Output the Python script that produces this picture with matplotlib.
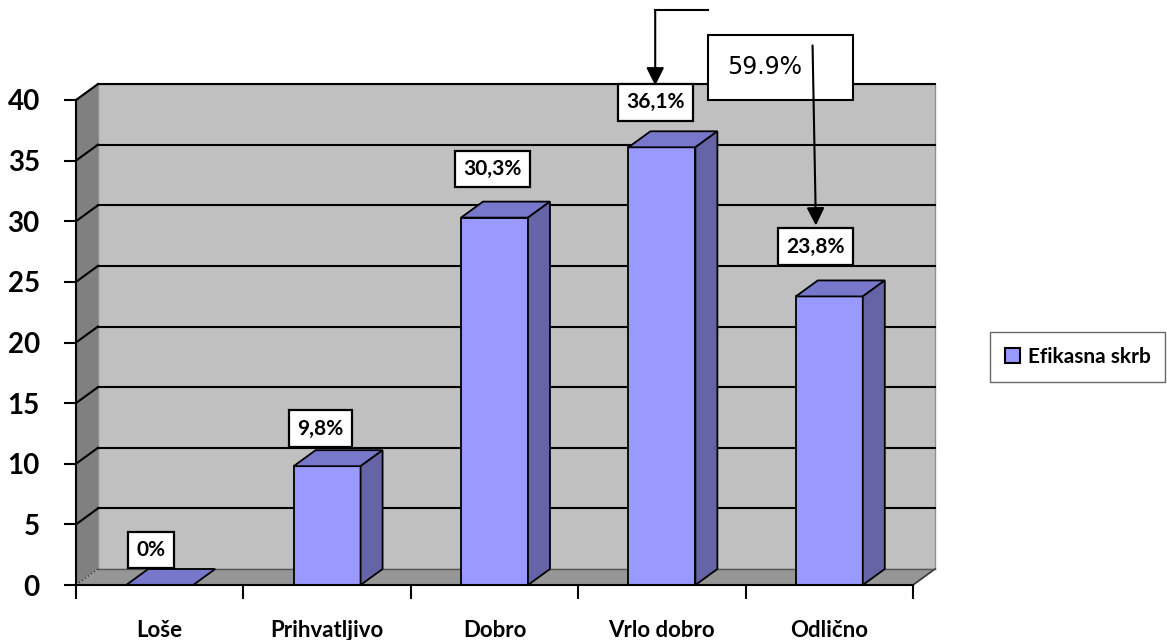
import matplotlib
matplotlib.use('Agg')
import matplotlib.pyplot as plt
from matplotlib.patches import Polygon, Rectangle, Patch

plt.rcParams['font.family'] = ['Lato', 'DejaVu Sans']

categories = ['Loše', 'Prihvatljivo', 'Dobro', 'Vrlo dobro', 'Odlično']
values = [0, 9.8, 30.3, 36.1, 23.8]
value_labels = ['0%', '9,8%', '30,3%', '36,1%', '23,8%']
series_name = 'Efikasna skrb'
note_text = '59.9%'

# label box offsets from bar (x in categories, y in value units)
label_dx = [-0.05, -0.04, -0.01, -0.04, -0.08]
label_dy = [2.9, 3.1, 4.0, 3.7, 4.1]

W, H = 1167, 640
fig = plt.figure(figsize=(W / 100, H / 100), dpi=100)
ax = fig.add_axes([76 / W, 55 / H, 837 / W, 485 / H])
ax.set_xlim(0, len(categories))
ax.set_ylim(0, 40)
ax.patch.set_visible(False)

n = len(categories)
ddx = 22 / 167.4   # depth of the 3d box
ddy = 16 / 12.125
top = 40

# walls and floor
ax.add_patch(Rectangle((ddx, ddy), n, top, fc='#c0c0c0', ec='#909090', lw=1, zorder=1, clip_on=False))
ax.add_patch(Polygon([(0, 0), (ddx, ddy), (ddx, top + ddy), (0, top)], closed=True,
                     fc='#808080', ec='none', zorder=1, clip_on=False))
ax.add_patch(Polygon([(0, 0), (n, 0), (n + ddx, ddy), (ddx, ddy)], closed=True,
                     fc='#969696', ec='none', zorder=1.5, clip_on=False))
ax.plot([n, n + ddx], [0, ddy], color='#333333', lw=1.2, zorder=1.6, clip_on=False)
ax.plot([0, ddx], [0, ddy], color='#333333', lw=1, ls=':', zorder=1.6, clip_on=False)
ax.plot([0, ddx], [top, top + ddy], color='#333333', lw=1, ls=':', zorder=1.6, clip_on=False)

for v in range(5, 45, 5):
    ax.plot([ddx, n + ddx], [v + ddy, v + ddy], color='black', lw=1.5, zorder=2, clip_on=False)
    ax.plot([0, ddx], [v, v + ddy], color='black', lw=1.5, zorder=2, clip_on=False)
ax.plot([ddx, n + ddx], [ddy, ddy], color='#555555', lw=1, zorder=1.6, clip_on=False)

# bars
bw = 0.4
xs = [i + 0.5 for i in range(n)]
ax.bar(xs, values, width=bw, color='#9999ff', edgecolor='black', lw=1.3, zorder=3)
for x, v in zip(xs, values):
    x0, x1 = x - bw / 2, x + bw / 2
    ax.add_patch(Polygon([(x0, v), (x0 + ddx, v + ddy), (x1 + ddx, v + ddy), (x1, v)], closed=True,
                         fc='#7777cc', ec='black', lw=1.3, zorder=3, clip_on=False))
    if v > 0:
        ax.add_patch(Polygon([(x1, 0), (x1 + ddx, ddy), (x1 + ddx, v + ddy), (x1, v)], closed=True,
                             fc='#6464a6', ec='black', lw=1.3, zorder=3, clip_on=False))

# value labels
label_pos = []
for i, (x, v, t) in enumerate(zip(xs, values, value_labels)):
    lx, ly = x + label_dx[i], v + label_dy[i]
    label_pos.append((lx, ly))
    ax.text(lx, ly, t, ha='center', va='center', fontsize=15, fontweight='bold', zorder=5,
            bbox=dict(boxstyle='square,pad=0.4', fc='white', ec='black', lw=1.6))

# note box with arrows
bx0, bx1 = 3.775, 4.642
ax.add_patch(Rectangle((bx0, top), bx1 - bx0, 5.36, fc='white', ec='black', lw=1.5, zorder=6, clip_on=False))
ax.text(4.116, top + 2.7, note_text, ha='center', va='center', fontsize=17,
        family='DejaVu Sans', zorder=7)
ax.plot([label_pos[3][0], bx0], [47.4, 47.4], color='black', lw=1.5, zorder=7, clip_on=False)
arrow = dict(arrowstyle='-|>', color='black', lw=1.5, mutation_scale=27, shrinkA=0, shrinkB=0)
ax.annotate('', xy=(label_pos[3][0], label_pos[3][1] + 1.4), xytext=(label_pos[3][0], 47.4),
            arrowprops=arrow, zorder=7, annotation_clip=False)
ax.annotate('', xy=(label_pos[4][0], label_pos[4][1] + 1.75), xytext=(label_pos[4][0] - 0.02, 44.5),
            arrowprops=arrow, zorder=7, annotation_clip=False)

# axes
for s in ['top', 'right']:
    ax.spines[s].set_visible(False)
for s in ['left', 'bottom']:
    ax.spines[s].set_linewidth(1.5)
    ax.spines[s].set_zorder(4)
ax.set_yticks(range(0, 45, 5))
ax.set_xticks(range(n + 1))
ax.set_xticklabels([])
ax.set_xticks(xs, minor=True)
ax.set_xticklabels(categories, minor=True, fontsize=16, fontweight='bold')
ax.tick_params(axis='y', length=9, width=1.5, pad=17, labelsize=20)
ax.tick_params(axis='x', which='major', length=10, width=1.5)
ax.tick_params(axis='x', which='minor', length=0, pad=25)
for lbl in ax.get_yticklabels():
    lbl.set_fontweight('bold')

leg = fig.legend(handles=[Patch(fc='#9999ff', ec='black', lw=1.5)], labels=[series_name],
                 loc='center left', bbox_to_anchor=(990 / W, 1 - 357 / H), frameon=True,
                 fancybox=False, edgecolor='#444444', handlelength=0.75, handleheight=0.75,
                 handletextpad=0.35, borderpad=0.7, borderaxespad=0,
                 prop=dict(family='Lato', weight='bold', size=15))
leg.get_frame().set_linewidth(1.0)

fig.savefig('out.png', dpi=100)
